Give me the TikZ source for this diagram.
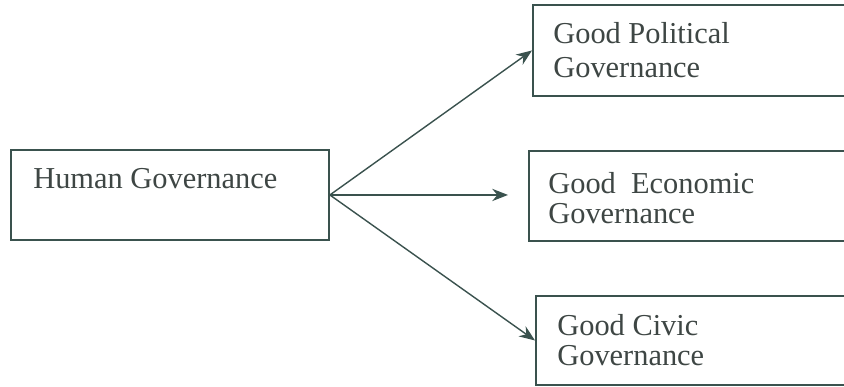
\documentclass[tikz,border=0pt]{standalone}
\usepackage{fontspec}
\setmainfont{Liberation Serif}
\usetikzlibrary{arrows.meta}
\definecolor{boxline}{RGB}{58,82,78}
\definecolor{inktext}{RGB}{62,70,68}
\tikzset{
  govbox/.style={draw=boxline, line width=1.1pt, minimum height=1.8cm, anchor=north west, inner sep=0pt},
  govtext/.style={text=inktext, font=\fontsize{17.3}{17}\selectfont, align=left, anchor=base west, inner sep=0pt},
  govarrow/.style={draw=boxline, line width=0.8pt, -{Stealth[length=9pt,width=7pt]}}
}
\begin{document}
\begin{tikzpicture}[x=0.02cm,y=-0.02cm]
  \clip (0,0) rectangle (844,386);
  % boxes
  \node[govbox, minimum width=6.36cm] (human) at (10,149) {};
  \node[govbox, minimum width=6.8cm, minimum height=1.82cm] (political) at (532,4) {};
  \node[govbox, minimum width=6.8cm] (economic) at (528,150) {};
  \node[govbox, minimum width=6.8cm, minimum height=1.78cm] (civic) at (535,295) {};
  % texts (base = last line)
  \node[govtext] (humantext) at (33,188) {Human Governance};
  \node[govtext, font=\fontsize{17.3}{19.3}\selectfont] (politicaltext) at (553,77) {Good Political\\Governance};
  \node[govtext] (economictext) at (548,223) {Good~ Economic\\Governance};
  \node[govtext] (civictext) at (557,365) {Good Civic\\Governance};
  % arrows
  \draw[govarrow] (human.east) -- (political.west);
  \draw[govarrow, shorten >=0.4cm] (human.east) -- (human.east -| economic.west);
  \draw[govarrow] (human.east) -- (civic.west);
\end{tikzpicture}
\end{document}
